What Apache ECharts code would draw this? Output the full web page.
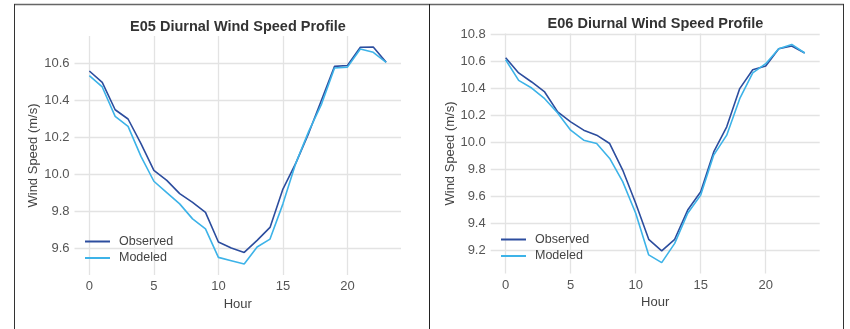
<!DOCTYPE html>
<html>
<head>
<meta charset="utf-8">
<script src="https://cdn.jsdelivr.net/npm/echarts@6/dist/echarts.min.js"></script>
<style>
  html, body { margin: 0; padding: 0; background: #fff; }
  #chart { width: 850px; height: 329px; }
</style>
</head>
<body>
<div id="chart"></div>
<script>
const hours = [0, 1, 2, 3, 4, 5, 6, 7, 8, 9, 10, 11, 12, 13, 14, 15, 16, 17, 18, 19, 20, 21, 22, 23]
const xTicks = [0, 5, 10, 15, 20]

// E05
const e05Observed = [10.557, 10.496, 10.348, 10.298, 10.165, 10.021, 9.967, 9.895, 9.848, 9.794, 9.634, 9.602,
  9.578, 9.643, 9.713, 9.920, 10.060, 10.222, 10.402, 10.582, 10.587, 10.685, 10.687, 10.604]
const e05Modeled = [10.532, 10.471, 10.312, 10.258, 10.096, 9.962, 9.901, 9.840, 9.759, 9.705, 9.551, 9.533,
  9.515, 9.607, 9.650, 9.840, 10.060, 10.231, 10.380, 10.573, 10.578, 10.676, 10.658, 10.604]
const e05Ticks = [9.6, 9.8, 10.0, 10.2, 10.4, 10.6]

// E06
const e06Observed = [10.627, 10.514, 10.447, 10.373, 10.225, 10.151, 10.089, 10.052, 9.990, 9.793, 9.546, 9.279,
  9.193, 9.279, 9.496, 9.632, 9.928, 10.114, 10.398, 10.538, 10.565, 10.694, 10.714, 10.662]
const e06Modeled = [10.612, 10.459, 10.402, 10.323, 10.217, 10.089, 10.015, 9.990, 9.879, 9.707, 9.472, 9.163,
  9.106, 9.249, 9.472, 9.607, 9.904, 10.052, 10.323, 10.514, 10.583, 10.694, 10.726, 10.662]
const e06Ticks = [9.2, 9.4, 9.6, 9.8, 10.0, 10.2, 10.4, 10.6, 10.8]

const obsColor = '#2c4d9e'
const modColor = '#3db3e8'
const font = 'Liberation Sans, Arial, sans-serif'

const chart = echarts.init(document.getElementById('chart'))

const xAxisFor = (gridIndex) => ({
  type: 'value',
  gridIndex,
  min: -1.15,
  max: 24.15,
  name: 'Hour',
  nameLocation: 'middle',
  nameGap: 13,
  nameTextStyle: {fontSize: 13, color: '#444', fontFamily: font},
  axisLine: {show: false},
  axisTick: {show: false, customValues: xTicks},
  axisLabel: {customValues: xTicks, fontSize: 13, color: '#555', fontFamily: font, margin: 5},
  splitLine: {show: true, lineStyle: {color: '#e3e3e3', width: 1.3}}
})

const yAxisFor = (gridIndex, min, max, ticks, gap) => ({
  type: 'value',
  gridIndex,
  min,
  max,
  name: 'Wind Speed (m/s)',
  nameLocation: 'middle',
  nameGap: gap,
  nameTextStyle: {fontSize: 13, color: '#444', fontFamily: font},
  axisLine: {show: false},
  axisTick: {show: false, customValues: ticks},
  axisLabel: {customValues: ticks, formatter: (v) => v.toFixed(1), fontSize: 13, color: '#555', fontFamily: font, margin: 5},
  splitLine: {show: true, lineStyle: {color: '#e3e3e3', width: 1.3}}
})

const lineSeries = (name, data, color, idx) => ({
  name,
  type: 'line',
  xAxisIndex: idx,
  yAxisIndex: idx,
  data: hours.map((h, i) => [h, data[i]]),
  symbol: 'none',
  lineStyle: {color, width: 1.6},
  itemStyle: {color},
  silent: true
})

const legendFor = (left, top, names) => ({
  orient: 'vertical', left, top, padding: 0,
  icon: 'rect', itemWidth: 25, itemHeight: 2, itemGap: 3.5,
  textStyle: {fontSize: 12.5, color: '#444', fontFamily: font, padding: [0, 0, 0, 4]},
  data: names
})

const option = {
  animation: false,
  backgroundColor: '#fff',
  grid: [
    {left: 74.5, top: 36, width: 326.5, height: 239},
    {left: 490.7, top: 33.5, width: 329, height: 240}
  ],
  xAxis: [xAxisFor(0), xAxisFor(1)],
  yAxis: [
    yAxisFor(0, 9.456, 10.746, e05Ticks, 27),
    yAxisFor(1, 9.025, 10.807, e06Ticks, 31)
  ],
  legend: [
    legendFor(85, 235, ['Observed', 'Modeled']),
    legendFor(501, 233, ['Observed ', 'Modeled '])
  ],
  series: [
    lineSeries('Observed', e05Observed, obsColor, 0),
    lineSeries('Modeled', e05Modeled, modColor, 0),
    lineSeries('Observed ', e06Observed, obsColor, 1),
    lineSeries('Modeled ', e06Modeled, modColor, 1)
  ],
  graphic: [
    {type: 'text', x: 238, y: 27, style: {text: 'E05 Diurnal Wind Speed Profile', font: 'bold 14.5px ' + font, fill: '#333', align: 'center', verticalAlign: 'middle'}},
    {type: 'text', x: 655.5, y: 24, style: {text: 'E06 Diurnal Wind Speed Profile', font: 'bold 14.5px ' + font, fill: '#333', align: 'center', verticalAlign: 'middle'}},
    {type: 'line', shape: {x1: 14, y1: 4.5, x2: 844, y2: 4.5}, style: {stroke: '#666', lineWidth: 1.5}},
    {type: 'line', shape: {x1: 14.5, y1: 4, x2: 14.5, y2: 329}, style: {stroke: '#333', lineWidth: 1}},
    {type: 'line', shape: {x1: 429.5, y1: 4, x2: 429.5, y2: 329}, style: {stroke: '#222', lineWidth: 1}},
    {type: 'line', shape: {x1: 843.5, y1: 4, x2: 843.5, y2: 329}, style: {stroke: '#333', lineWidth: 1}}
  ]
}

chart.setOption(option)
</script>
</body>
</html>
